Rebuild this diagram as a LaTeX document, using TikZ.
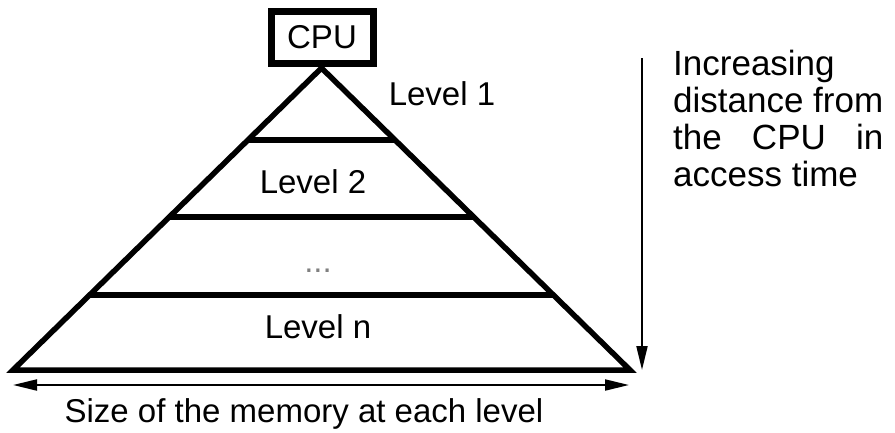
\documentclass[tikz,border=0pt]{standalone}
\usepackage{fontspec}
\setmainfont{Liberation Sans}
\usepackage{calc}
\usetikzlibrary{positioning,arrows.meta,calc}

\begin{document}
\begin{tikzpicture}[
          x=1pt, y=-1pt,
          >={Triangle[length=24pt,width=11pt]},
          lbl/.style={font=\fontsize{33}{37}\selectfont, inner sep=0pt},
          cpubox/.style={draw, line width=7pt, minimum width=102pt,
                         minimum height=52pt, inner sep=0pt,
                         font=\fontsize{33}{37}\selectfont},
          tri/.style={line width=5.5pt},
          levelline/.style={line width=6.5pt},
          axis/.style={line width=2pt}
        ]
        \useasboundingbox (0,0) rectangle (895,432);

        % pyramid corners
        \coordinate (apex) at (321.5,68);
        \coordinate (bl) at (13,370);
        \coordinate (br) at (630,370);

        \node[cpubox] (cpu) at (322,37) {CPU};

        \draw[tri] (bl) -- (apex) -- (br) -- cycle;

        % level boundaries
        \foreach \t in {0.238, 0.493, 0.752} {
          \draw[levelline] ($(apex)!\t!(bl)$) -- ($(apex)!\t!(br)$);
        }

        \node[lbl, anchor=base] (lev1) at (442,105) {Level 1};
        \node[lbl, anchor=base] (lev2) at (313,193) {Level 2};
        \node[lbl, anchor=base, text=gray] (dots) at (318,272) {...};
        \node[lbl, anchor=base] (levn) at (318,338) {Level n};

        % size arrow
        \coordinate (sizeL) at (13,385);
        \coordinate (sizeR) at (629,385);
        \draw[axis, <->] (sizeL) -- (sizeR);
        \node[lbl, anchor=base] (size) at (304,422)
              {Size of the memory at each level};

        % distance arrow
        \coordinate (distT) at (642,58);
        \coordinate (distB) at (642,370);
        \draw[axis, ->] (distT) -- (distB);
        \node[lbl, font=\fontsize{35}{37}\selectfont, anchor=north west,
              align=left] (dist) at (673,50)
              {Increasing\\distance from\\
               \makebox[\widthof{distance from}][s]{the CPU in}\\
               access time};
      \end{tikzpicture}
\end{document}
